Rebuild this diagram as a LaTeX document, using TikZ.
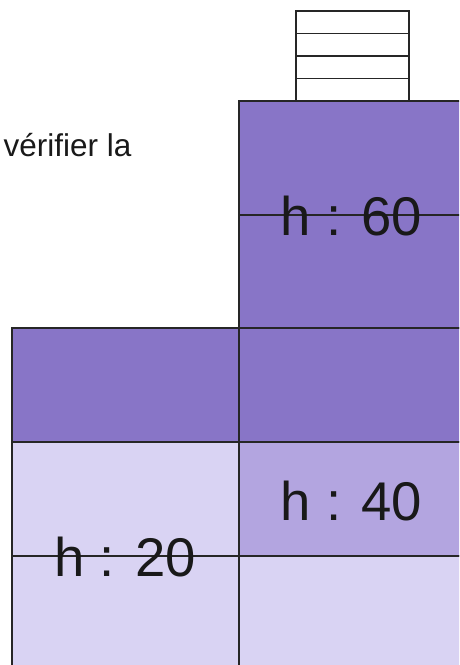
\documentclass[tikz,border=0pt]{standalone}
\usepackage{fontspec}
\setmainfont{Liberation Sans}
\definecolor{plumdark}{HTML}{8875C7}
\definecolor{plummid}{HTML}{B3A5E0}
\definecolor{plumlight}{HTML}{D9D3F3}

\begin{document}
\begin{tikzpicture}[
        x=1pt, y=-1pt, line width=1.2pt,
        darkcell/.style={draw=black!85, fill=plumdark},
        midcell/.style={draw=black!85, fill=plummid},
        lightcell/.style={draw=black!85, fill=plumlight},
        stackcell/.style={draw=black!85, fill=white},
        hlabel/.style={inner sep=0pt, anchor=base, text=black!90, font=\fontsize{54.5}{60}\selectfont},
        note/.style={inner sep=0pt, anchor=base west, text=black!90, font=\fontsize{31.5}{34}\selectfont}
    ]
        \useasboundingbox (0,0) rectangle (459,665);
        \clip (0,0) rectangle (459,665);

        % small stack on top
        \foreach \i in {0,...,3}
            \draw[stackcell] (296,11+22.5*\i) rectangle (409,33.5+22.5*\i);

        % right column
        \draw[darkcell] (239,101) rectangle (470,328);
        \draw[darkcell] (239,328) rectangle (470,442);
        \draw[midcell] (239,442) rectangle (470,556);
        \draw[lightcell] (239,556) rectangle (470,680);

        % left column
        \draw[darkcell] (12,328) rectangle (239,442);
        \draw[lightcell] (12,442) rectangle (239,680);

        % cut lines
        \draw[black!85] (239,215) -- (470,215);
        \draw[black!85] (12,556) -- (239,556);

        \node[note] (check) at (3,156) {vérifier la};
        \node[hlabel] (h60) at (351.5,235) {h : 60};
        \node[hlabel] (h40) at (351.5,520) {h : 40};
        \node[hlabel] (h20) at (125,576) {h : 20};
    \end{tikzpicture}
\end{document}
